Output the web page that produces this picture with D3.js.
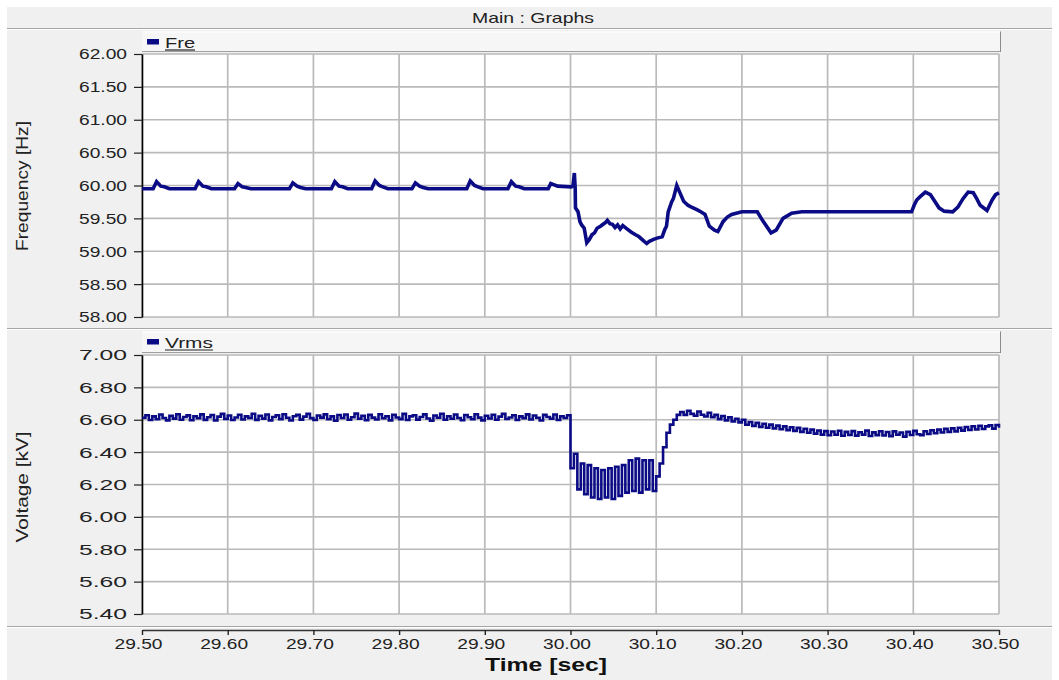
<!DOCTYPE html>
<html><head><meta charset="utf-8">
<script src="https://cdn.jsdelivr.net/npm/d3@7"></script>
<style>
html,body{margin:0;padding:0;background:#fff;}
svg{display:block;font-family:"Liberation Sans",Arial,sans-serif;}
</style>
</head><body>
<svg id="chart" width="1059" height="680"></svg>
<script>
// ---------------- DATA ----------------
const chartTitle = "Main : Graphs";
const freqSeriesName = "Fre";
const voltSeriesName = "Vrms";
const freqAxisTitle = "Frequency [Hz]";
const voltAxisTitle = "Voltage [kV]";
const timeAxisTitle = "Time [sec]";

const timeTicks = [29.5, 29.6, 29.7, 29.8, 29.9, 30.0, 30.1, 30.2, 30.3, 30.4, 30.5];
const timeTickLabels = ["29.50","29.60","29.70","29.80","29.90","30.00","30.10","30.20","30.30","30.40","30.50"];
const freqTicks = [58.0, 58.5, 59.0, 59.5, 60.0, 60.5, 61.0, 61.5, 62.0];
const freqTickLabels = ["58.00","58.50","59.00","59.50","60.00","60.50","61.00","61.50","62.00"];
const voltTicks = [5.4, 5.6, 5.8, 6.0, 6.2, 6.4, 6.6, 6.8, 7.0];
const voltTickLabels = ["5.40","5.60","5.80","6.00","6.20","6.40","6.60","6.80","7.00"];

// Frequency [time, Hz]
const freqData = [
  [29.500,59.95],
  [29.513,59.95],[29.517,60.06],[29.522,59.99],[29.526,59.98],[29.532,59.95],
  [29.562,59.95],[29.566,60.06],[29.571,59.99],[29.575,59.98],[29.581,59.95],
  [29.608,59.95],[29.612,60.03],[29.617,59.98],[29.621,59.97],[29.627,59.95],
  [29.672,59.95],[29.676,60.04],[29.681,59.99],[29.685,59.97],[29.691,59.95],
  [29.721,59.95],[29.725,60.06],[29.730,59.99],[29.734,59.98],[29.740,59.95],
  [29.768,59.95],[29.772,60.07],[29.777,60.00],[29.781,59.98],[29.787,59.95],
  [29.815,59.95],[29.819,60.04],[29.824,59.99],[29.828,59.97],[29.834,59.95],
  [29.879,59.95],[29.883,60.07],[29.888,60.00],[29.892,59.98],[29.898,59.95],
  [29.927,59.95],[29.931,60.06],[29.936,59.99],[29.940,59.98],[29.946,59.95],
  [29.974,59.95],[29.977,60.03],[29.985,59.99],[30.001,59.98],
  [30.003,60.00],[30.0045,60.19],[30.0055,59.95],[30.0058,59.66],[30.0088,59.60],
  [30.010,59.52],[30.011,59.45],[30.013,59.40],[30.016,59.35],[30.019,59.13],
  [30.022,59.18],[30.025,59.25],[30.028,59.28],[30.031,59.35],[30.035,59.38],
  [30.038,59.41],[30.041,59.44],[30.043,59.47],[30.046,59.42],[30.049,59.41],
  [30.052,59.36],[30.055,59.40],[30.058,59.34],[30.061,59.39],[30.064,59.36],
  [30.067,59.33],[30.071,59.29],[30.076,59.25],[30.080,59.22],[30.086,59.15],
  [30.089,59.12],[30.092,59.15],[30.097,59.18],[30.101,59.20],[30.107,59.22],
  [30.110,59.33],[30.112,59.38],[30.114,59.60],[30.118,59.75],[30.120,59.80],
  [30.124,60.00],[30.128,59.88],[30.132,59.76],[30.137,59.70],[30.140,59.68],
  [30.148,59.63],[30.152,59.60],[30.157,59.56],[30.162,59.38],[30.168,59.32],
  [30.172,59.30],[30.178,59.45],[30.183,59.52],[30.188,59.56],[30.200,59.60],
  [30.218,59.60],[30.224,59.47],[30.234,59.28],[30.240,59.32],[30.248,59.50],
  [30.258,59.58],[30.270,59.60],[30.398,59.60],[30.401,59.70],[30.404,59.78],
  [30.408,59.83],[30.414,59.90],[30.420,59.86],[30.425,59.76],[30.430,59.66],
  [30.436,59.61],[30.446,59.60],[30.452,59.67],[30.458,59.80],[30.464,59.90],
  [30.470,59.89],[30.474,59.80],[30.478,59.70],[30.486,59.62],[30.492,59.78],
  [30.496,59.86],[30.500,59.89]
];

// Vrms [kV], sampled every 0.004 s starting at 29.500 s
const vrmsStart = 29.5;
const vrmsStep = 0.004;
const vrmsValues = [
  6.612,6.628,6.598,6.621,6.603,6.632,6.611,6.596,6.624,6.607,
  6.634,6.600,6.617,6.627,6.597,6.622,6.609,6.633,6.599,6.615,
  6.629,6.595,6.619,6.636,6.605,6.626,6.598,6.614,6.631,6.602,
  6.621,6.611,6.637,6.599,6.625,6.607,6.632,6.596,6.617,6.628,
  6.604,6.634,6.612,6.595,6.622,6.630,6.601,6.619,6.636,6.610,
  6.598,6.626,6.613,6.633,6.603,6.621,6.594,6.629,6.611,6.632,
  6.600,6.615,6.638,6.606,6.625,6.597,6.630,6.613,6.602,6.634,
  6.609,6.622,6.596,6.631,6.614,6.604,6.636,6.598,6.621,6.628,
  6.601,6.617,6.633,6.608,6.594,6.626,6.612,6.637,6.600,6.622,
  6.606,6.632,6.611,6.597,6.629,6.615,6.603,6.634,6.613,6.596,
  6.625,6.608,6.631,6.600,6.619,6.636,6.605,6.614,6.628,6.598,
  6.621,6.610,6.633,6.602,6.626,6.612,6.595,6.630,6.617,6.606,
  6.632,6.598,6.622,6.611,6.628,
  // fault dip 30.000 - 30.096
  6.30,6.39,6.17,6.33,6.14,6.32,6.12,6.30,6.11,6.29,
  6.12,6.30,6.11,6.31,6.13,6.32,6.15,6.35,6.16,6.36,
  6.15,6.35,6.17,6.35,6.16,
  // recovery 30.100 - 30.124
  6.25,6.33,6.43,6.52,6.57,6.60,6.63,
  // 30.128 - 30.500
  6.648,6.630,6.656,6.636,6.625,6.651,6.631,6.620,6.643,6.616,
  6.630,6.604,6.623,6.596,6.615,6.590,6.606,6.584,6.600,6.569,
  6.586,6.562,6.581,6.556,6.575,6.551,6.570,6.547,6.564,6.541,
  6.559,6.536,6.554,6.531,6.550,6.525,6.544,6.520,6.539,6.514,
  6.534,6.508,6.530,6.504,6.527,6.507,6.532,6.501,6.525,6.506,
  6.530,6.502,6.523,6.508,6.533,6.500,6.522,6.505,6.529,6.503,
  6.524,6.499,6.528,6.507,6.521,6.496,6.526,6.506,6.531,6.510,
  6.505,6.529,6.512,6.535,6.517,6.540,6.521,6.544,6.525,6.547,
  6.528,6.551,6.533,6.555,6.537,6.560,6.540,6.563,6.543,6.559,
  6.565,6.545,6.568,6.551
];

// ---------------- LAYOUT ----------------
const svg = d3.select("#chart");
const W = 1059, H = 680;
const L = 142, R = 999;
const fTop = 54, fBot = 317;
const vTop = 355, vBot = 614;
const lineColor = "#0b0b86";
const gridColor = "#bababa";
const textColor = "#222";

const x = d3.scaleLinear().domain([29.5, 30.5]).range([L, R]);
const yF = d3.scaleLinear().domain([58, 62]).range([fBot, fTop]);
const yV = d3.scaleLinear().domain([5.4, 7.0]).range([vBot, vTop]);

// backgrounds
svg.append("rect").attr("x",0).attr("y",0).attr("width",W).attr("height",H).attr("fill","#fff");
svg.append("rect").attr("x",7).attr("y",7).attr("width",1045).attr("height",H-7).attr("fill","#f0f0f0");

function hline(y, x1, x2, color){
  svg.append("line").attr("x1",x1).attr("x2",x2).attr("y1",y).attr("y2",y)
    .attr("stroke",color).attr("stroke-width",1);
}
hline(28.5, 7, 1052, "#a6a6a6"); hline(29.5, 7, 1052, "#ffffff");
hline(328.5, 7, 1052, "#a6a6a6"); hline(329.5, 7, 1052, "#ffffff");
hline(626.5, 7, 1052, "#a6a6a6"); hline(627.5, 7, 1052, "#ffffff");

// title
svg.append("text").attr("x",533).attr("y",23).attr("text-anchor","middle")
  .attr("font-size",15).attr("fill",textColor)
  .attr("textLength",122).attr("lengthAdjust","spacingAndGlyphs")
  .text(chartTitle);

// legend bars
function legendBar(y0, y1, name, textLen){
  const g = svg.append("g");
  g.append("rect").attr("x",L).attr("y",y0).attr("width",R-L+1).attr("height",y1-y0)
    .attr("fill","#f6f6f6");
  g.append("line").attr("x1",L).attr("x2",R+1).attr("y1",y1-0.5).attr("y2",y1-0.5).attr("stroke","#a0a0a0");
  g.append("line").attr("x1",R+1.5).attr("x2",R+1.5).attr("y1",y0).attr("y2",y1).attr("stroke","#8a8a8a");
  g.append("line").attr("x1",L).attr("x2",R+1).attr("y1",y0+0.5).attr("y2",y0+0.5).attr("stroke","#ffffff");
  g.append("rect").attr("x",147).attr("y",y0+7.5).attr("width",12).attr("height",5.5).attr("fill",lineColor);
  g.append("text").attr("x",165).attr("y",y0+16.5).attr("font-size",15).attr("fill",textColor)
    .attr("textLength",textLen).attr("lengthAdjust","spacingAndGlyphs").text(name);
  g.append("line").attr("x1",165).attr("x2",165+textLen).attr("y1",y0+18.5).attr("y2",y0+18.5)
    .attr("stroke",textColor).attr("stroke-width",1.2);
}
legendBar(31.5, 52, freqSeriesName, 30);
legendBar(331.5, 353, voltSeriesName, 48);

// plot areas
function panel(yScale, ticks, labels, top, bot){
  svg.append("rect").attr("x",L).attr("y",top).attr("width",R-L).attr("height",bot-top).attr("fill","#fff");
  const g = svg.append("g");
  g.selectAll("line.gx").data(timeTicks).join("line")
    .attr("x1",d=>x(d)).attr("x2",d=>x(d)).attr("y1",top).attr("y2",bot)
    .attr("stroke",gridColor).attr("stroke-width",1.7);
  g.selectAll("line.gy").data(ticks).join("line")
    .attr("x1",L).attr("x2",R).attr("y1",d=>yScale(d)).attr("y2",d=>yScale(d))
    .attr("stroke",gridColor).attr("stroke-width",1.7);
  const ax = svg.append("g").attr("transform",`translate(${L},0)`)
    .call(d3.axisLeft(yScale).tickValues(ticks).tickFormat((d,i)=>labels[i]).tickSize(8).tickSizeOuter(0).tickPadding(7));
  ax.select(".domain").attr("stroke","#000").attr("stroke-width",1.6);
  ax.selectAll(".tick line").attr("stroke","#222").attr("stroke-width",1.2);
  ax.selectAll(".tick text").attr("font-size",15.5).attr("fill",textColor)
    .attr("font-family",'"Liberation Sans",Arial,sans-serif')
    .attr("textLength",48).attr("lengthAdjust","spacingAndGlyphs");
}
panel(yF, freqTicks, freqTickLabels, fTop, fBot);
panel(yV, voltTicks, voltTickLabels, vTop, vBot);

// series
const freqLine = d3.line().x(d=>x(d[0])).y(d=>yF(d[1])).curve(d3.curveLinear);
svg.append("path").datum(freqData).attr("d",freqLine)
  .attr("fill","none").attr("stroke",lineColor).attr("stroke-width",3.6)
  .attr("stroke-linejoin","miter");

const vrmsData = vrmsValues.map((v,i)=>[vrmsStart + i*vrmsStep, v]);
const voltLine = d3.line().x(d=>x(d[0])).y(d=>yV(d[1])).curve(d3.curveStepAfter);
svg.append("path").datum(vrmsData).attr("d",voltLine)
  .attr("fill","none").attr("stroke",lineColor).attr("stroke-width",2.6);

// x axis
const xa = svg.append("g").attr("transform","translate(0,630)")
  .call(d3.axisBottom(x).tickValues(timeTicks).tickFormat((d,i)=>timeTickLabels[i]).tickSize(5).tickSizeOuter(0).tickPadding(3));
xa.select(".domain").attr("stroke","#333").attr("stroke-width",1.4);
xa.selectAll(".tick line").attr("stroke","#222").attr("stroke-width",1.4);
xa.selectAll(".tick text").attr("font-size",15.5).attr("fill",textColor).attr("dx",-4)
  .attr("font-family",'"Liberation Sans",Arial,sans-serif')
  .attr("textLength",48).attr("lengthAdjust","spacingAndGlyphs");

// axis titles
svg.append("text").attr("x",546).attr("y",671).attr("text-anchor","middle")
  .attr("font-size",19).attr("font-weight","bold").attr("fill","#111")
  .attr("textLength",122).attr("lengthAdjust","spacingAndGlyphs").text(timeAxisTitle);

svg.append("text").attr("transform","translate(28,186) rotate(-90)").attr("text-anchor","middle")
  .attr("font-size",16).attr("fill",textColor)
  .attr("textLength",130).attr("lengthAdjust","spacingAndGlyphs").text(freqAxisTitle);
svg.append("text").attr("transform","translate(28,487) rotate(-90)").attr("text-anchor","middle")
  .attr("font-size",16).attr("fill",textColor)
  .attr("textLength",111).attr("lengthAdjust","spacingAndGlyphs").text(voltAxisTitle);
</script>
</body></html>
